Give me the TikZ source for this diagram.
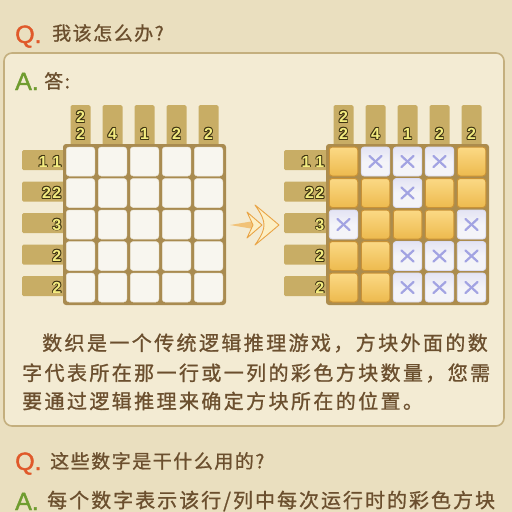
\documentclass[tikz,border=0pt]{standalone}
\usepackage{fontspec}
\setmainfont{Liberation Sans}
\newfontfamily\cjkA[LetterSpace=12,FakeBold=1]{Noto Sans CJK SC}
\newfontfamily\cjkB[LetterSpace=8,FakeBold=1]{Noto Sans CJK SC}
\newfontfamily\cjkC[LetterSpace=10,FakeBold=1]{Noto Sans CJK SC}
\newfontfamily\qafont[FakeBold=1.5]{Liberation Sans}
\definecolor{bg}{HTML}{EADFBF}
\definecolor{boxfill}{HTML}{F3EBD3}
\definecolor{boxline}{HTML}{C4AF7E}
\definecolor{txtbrown}{HTML}{6B4F2E}
\definecolor{qorange}{HTML}{E0592A}
\definecolor{agreen}{HTML}{6F9C2F}
\definecolor{cluebar}{HTML}{C8AD65}
\definecolor{gridframe}{HTML}{A98B50}
\definecolor{cellw}{HTML}{F8F6EF}
\definecolor{goldtop}{HTML}{FBD985}
\definecolor{goldbot}{HTML}{EDBA4E}
\definecolor{goldline}{HTML}{C99236}
\definecolor{crossc}{HTML}{A2A3E2}
\definecolor{crossbg}{HTML}{F4F4F8}
\definecolor{numyel}{HTML}{F3EC80}
\definecolor{numdark}{HTML}{3F3412}
\definecolor{arrowedge}{HTML}{E9A445}
\definecolor{arrowfill}{HTML}{FCEFC4}
\newcommand\otxt[1]{\leavevmode
 \rlap{\color{numdark}\hspace*{0.9pt}#1}%
 \rlap{\color{numdark}\hspace*{-0.9pt}#1}%
 \rlap{\color{numdark}\raisebox{0.9pt}{#1}}%
 \rlap{\color{numdark}\raisebox{-0.9pt}{#1}}%
 \rlap{\color{numdark}\hspace*{0.65pt}\raisebox{0.65pt}{#1}}%
 \rlap{\color{numdark}\hspace*{-0.65pt}\raisebox{0.65pt}{#1}}%
 \rlap{\color{numdark}\hspace*{0.65pt}\raisebox{-0.65pt}{#1}}%
 \rlap{\color{numdark}\hspace*{-0.65pt}\raisebox{-0.65pt}{#1}}%
 {\color{numyel}#1}}
\begin{document}
\begin{tikzpicture}[x=1pt,y=-1pt,
  cellbase/.style={rectangle,minimum width=28.5pt,minimum height=29pt,inner sep=0pt,rounded corners=3pt},
  emptycell/.style={cellbase,fill=cellw,draw=cellw!85!gridframe,line width=0.5pt},
  goldcell/.style={cellbase,top color=goldtop,bottom color=goldbot,draw=goldline,line width=1pt},
  xcell/.style={cellbase,top color=crossbg!80!crossc,bottom color=crossbg,middle color=crossbg,draw=crossbg!70!crossc,line width=0.8pt},
  xline/.style={draw=crossc,line width=2.2pt,line cap=round},
  gridbox/.style={rectangle,fill=gridframe,rounded corners=3pt,minimum width=163pt,minimum height=161pt,inner sep=0pt},
  colbar/.style={rectangle,fill=cluebar,minimum width=20pt,minimum height=42pt,inner sep=0pt,rounded corners=1.5pt},
  rowbar/.style={rectangle,fill=cluebar,minimum width=44pt,minimum height=20pt,inner sep=0pt,rounded corners=1.5pt},
  clue/.style={inner sep=0pt,font=\bfseries\fontsize{16}{16}\selectfont},
  qmark/.style={inner sep=0pt,text=qorange,font=\qafont\fontsize{25}{25}\selectfont},
  amark/.style={inner sep=0pt,text=agreen,font=\qafont\fontsize{25}{25}\selectfont},
  para/.style={inner sep=0pt,text=txtbrown,font=\cjkA\fontsize{20}{20}\selectfont},
  qtext/.style={inner sep=0pt,text=txtbrown,font=\cjkB\fontsize{19}{19}\selectfont},
  atext/.style={inner sep=0pt,text=txtbrown,font=\cjkC\fontsize{20}{20}\selectfont},
  arrowpart/.style={draw=arrowedge,line width=0.9pt,fill=arrowfill,line join=round}
]
\useasboundingbox (0,0) rectangle (512,512);
\clip (0,0) rectangle (512,512);
\fill[bg] (0,0) rectangle (512,512);
% answer box
\draw[boxline,line width=1.6pt,fill=boxfill,rounded corners=8pt] (4,53) rectangle (504,426);
% headings
\node[qmark,anchor=base west] (q1) at (15,43) {Q.};
\node[qtext,anchor=west] (q1t) at (52,33) {我该怎么办?};
\node[amark,anchor=base west] (a1) at (15,90) {A.};
\node[qtext,anchor=west] (a1t) at (44,81) {答:};
% column and row clue bars
\foreach \g/\gx in {L/80.5,R/343.5}{
  \foreach \c in {0,...,4}{
    \node[colbar] (\g cb\c) at (\gx+32*\c,126) {};
  }
}
\foreach \r in {0,...,4}{
  \node[rowbar] (Lrb\r) at (44,160+31.5*\r) {};
  \node[rowbar] (Rrb\r) at (306,160+31.5*\r) {};
}
% grid frames
\node[gridbox] (Lframe) at (144.5,224.5) {};
\node[gridbox,fill=gridframe!90!goldline] (Rframe) at (407.5,224.5) {};
% left empty grid
\foreach \r in {0,...,4}{
  \foreach \c in {0,...,4}{
    \node[emptycell] (L\r\c) at (80.5+32*\c,161.5+31.5*\r) {};
  }
}
% right solved grid
\foreach \r/\row in {0/{1,0,0,0,1},1/{1,1,0,1,1},2/{0,1,1,1,0},3/{1,1,0,0,0},4/{1,1,0,0,0}}{
  \foreach \t [count=\c from 0] in \row {
    \ifnum\t=1
      \node[goldcell] (R\r\c) at (343.5+32*\c,161.5+31.5*\r) {};
    \else
      \node[xcell] (R\r\c) at (343.5+32*\c,161.5+31.5*\r) {};
      \draw[xline] (R\r\c.center) ++(-6,-5.5) -- ++(12,11);
      \draw[xline] (R\r\c.center) ++(6,-5.5) -- ++(-12,11);
    \fi
  }
}
% column clue numbers
\foreach \g/\gx in {L/80.5,R/343.5}{
  \node[clue] (\g n0a) at (\gx,117) {\otxt{2}};
  \node[clue] (\g n0b) at (\gx,134) {\otxt{2}};
  \node[clue] (\g n1) at (\gx+32,134) {\otxt{4}};
  \node[clue] (\g n2) at (\gx+64,134) {\otxt{1}};
  \node[clue] (\g n3) at (\gx+96,134) {\otxt{2}};
  \node[clue] (\g n4) at (\gx+128,134) {\otxt{2}};
}
% row clue numbers
\foreach \g/\gx in {L/61.5,R/324.5}{
  \node[clue,anchor=east] (\g r0) at (\gx,161.5) {\otxt{1}\hspace{5pt}\otxt{1}};
  \node[clue,anchor=east] (\g r1) at (\gx,193) {\otxt{2}\hspace{1.5pt}\otxt{2}};
  \node[clue,anchor=east] (\g r2) at (\gx,224.5) {\otxt{3}};
  \node[clue,anchor=east] (\g r3) at (\gx,256) {\otxt{2}};
  \node[clue,anchor=east] (\g r4) at (\gx,287.5) {\otxt{2}};
}
% arrow between the grids
\coordinate (arrtail) at (230,225);
\coordinate (arrtip) at (279,225);
\fill[arrowedge!60!arrowfill] (arrtail) -- (251,221.5) -- (255,225) -- (251,228.5) -- cycle;
\draw[arrowpart] (247,212) -- (262,225) -- (247,238) -- (253,225) -- cycle;
\draw[arrowpart] (255,205) .. controls (266,214) .. (arrtip) .. controls (266,236) .. (255,245) .. controls (262,235) and (264,230) .. (264,225) .. controls (264,220) and (262,215) .. cycle;
% paragraph
\node[para,anchor=west] (p1) at (42,343) {数织是一个传统逻辑推理游戏，方块外面的数};
\node[para,anchor=west] (p2) at (22,373) {字代表所在那一行或一列的彩色方块数量，您需};
\node[para,anchor=west] (p3) at (22,401) {要通过逻辑推理来确定方块所在的位置。};
% second question
\node[qmark,anchor=base west] (q2) at (15,470) {Q.};
\node[qtext,anchor=west] (q2t) at (50,461) {这些数字是干什么用的?};
\node[amark,anchor=base west] (a2) at (15,510) {A.};
\node[atext,anchor=west] (a2t) at (47,501) {每个数字表示该行/列中每次运行时的彩色方块};
\end{tikzpicture}
\end{document}
